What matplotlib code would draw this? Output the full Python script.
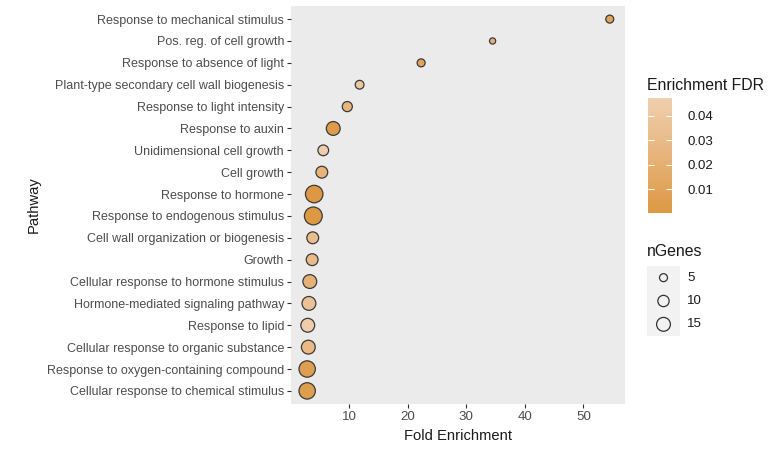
import numpy as np
import matplotlib
matplotlib.use('Agg')
import matplotlib.pyplot as plt
from matplotlib.colors import LinearSegmentedColormap, Normalize
from matplotlib.cm import ScalarMappable

plt.rcParams['font.family'] = ['Liberation Sans', 'DejaVu Sans']

pathways = [
    'Response to mechanical stimulus',
    'Pos. reg. of cell growth',
    'Response to absence of light',
    'Plant-type secondary cell wall biogenesis',
    'Response to light intensity',
    'Response to auxin',
    'Unidimensional cell growth',
    'Cell growth',
    'Response to hormone',
    'Response to endogenous stimulus',
    'Cell wall organization or biogenesis',
    'Growth',
    'Cellular response to hormone stimulus',
    'Hormone-mediated signaling pathway',
    'Response to lipid',
    'Cellular response to organic substance',
    'Response to oxygen-containing compound',
    'Cellular response to chemical stimulus',
]
fold_enrichment = [54.5, 34.5, 22.3, 11.8, 9.7, 7.3, 5.6, 5.35, 4.05, 3.9,
                   3.8, 3.7, 3.3, 3.15, 2.95, 3.05, 2.85, 2.85]
n_genes = [5, 3, 5, 6, 8, 15, 9, 11, 24, 25, 11, 11, 15, 15, 15, 15, 21, 21]
fdr = [0.010, 0.022, 0.010, 0.040, 0.026, 0.003, 0.045, 0.024, 0.0005, 0.0005,
       0.032, 0.030, 0.022, 0.036, 0.045, 0.029, 0.006, 0.005]

legend_sizes = [5, 10, 15]
fdr_ticks = [0.01, 0.02, 0.03, 0.04]
fdr_range = (0.0003, 0.0473)


def marker_area(n):
    return 6.6 * np.asarray(n, dtype=float)


cmap = LinearSegmentedColormap.from_list('fdr', ['#DD9843', '#F0CFB0'])
norm = Normalize(*fdr_range)

fig = plt.figure(figsize=(7.71, 4.5), dpi=100)
W, H = 771, 450

# main panel
ax = fig.add_axes([291 / W, 1 - 404 / H, 334 / W, 398 / H])
ax.set_facecolor('#EBEBEB')
for s in ax.spines.values():
    s.set_visible(False)

ypos = np.arange(len(pathways))[::-1]
ax.scatter(fold_enrichment, ypos, s=marker_area(n_genes), c=fdr, cmap=cmap, norm=norm,
           edgecolors='#3a3a3a', linewidths=0.9, zorder=3)

ax.set_ylim(-0.6, len(pathways) - 0.4)
ax.set_yticks(ypos)
ax.set_yticklabels(pathways)
ax.set_xlim(0.09, 57.1)
ax.set_xticks([10, 20, 30, 40, 50])
ax.tick_params(axis='both', colors='#333333', labelcolor='#4D4D4D', labelsize=9,
               length=3, width=0.8, pad=2)
ax.tick_params(axis='x', labelsize=9.6)
ax.set_xlabel('Fold Enrichment', fontsize=10.6, color='#1a1a1a')
ax.xaxis.set_label_coords(0.5, -0.062)
ax.set_ylabel('Pathway', fontsize=10.6, color='#1a1a1a', va='center')
ax.yaxis.set_label_coords(-0.769, 0.5)

# colour bar for FDR
cax = fig.add_axes([648 / W, 1 - 213 / H, 24 / W, 115 / H])
cb = fig.colorbar(ScalarMappable(norm=norm, cmap=cmap), cax=cax)
cb.outline.set_visible(False)
cb.set_ticks(fdr_ticks)
cb.set_ticklabels([f'{t:.2f}' for t in fdr_ticks])
cax.tick_params(direction='in', color='white', length=4, width=0.8,
                left=True, right=True, labelleft=False, labelright=True,
                labelsize=9.5, labelcolor='#1a1a1a', pad=11)
fig.text(647 / W, 1 - 86 / H, 'Enrichment FDR', fontsize=11.4, color='#1a1a1a', va='center')

# size legend
fig.text(647 / W, 1 - 252 / H, 'nGenes', fontsize=11.4, color='#1a1a1a', va='center')
lax = fig.add_axes([647 / W, 1 - 336 / H, 33 / W, 70 / H])
lax.set_facecolor('#F2F2F2')
for s in lax.spines.values():
    s.set_visible(False)
lax.set_xticks([])
lax.set_yticks([])
ly = np.arange(len(legend_sizes))[::-1]
lax.scatter(np.zeros(len(legend_sizes)), ly, s=marker_area(legend_sizes),
            facecolors='none', edgecolors='#333333', linewidths=0.9)
lax.set_xlim(-1, 1)
lax.set_ylim(-0.5, len(legend_sizes) - 0.5)
for yv, lab in zip(ly, legend_sizes):
    lax.annotate(str(lab), xy=(1, yv), xycoords='data', xytext=(5, 0),
                 textcoords='offset points', va='center', fontsize=9.5,
                 color='#1a1a1a', annotation_clip=False)

fig.savefig('out.png', dpi=100)
